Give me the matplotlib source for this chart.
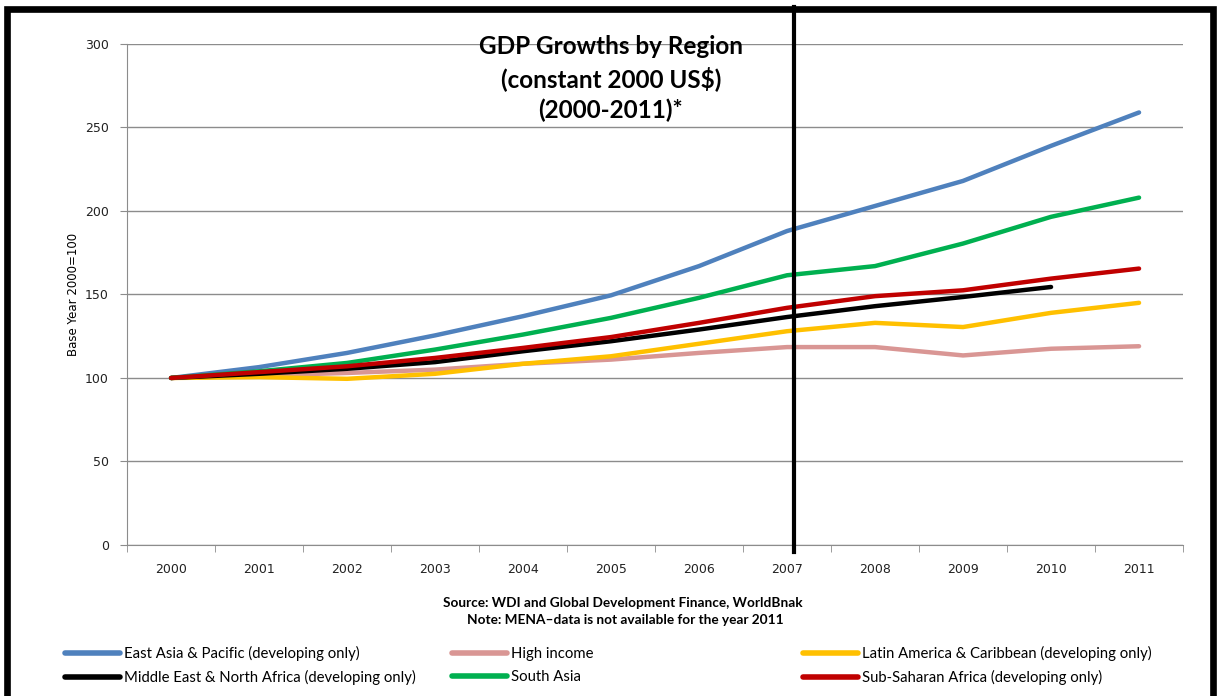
import numpy as np
import matplotlib.pyplot as plt
from matplotlib.patches import Rectangle

years = ['2000', '2001', '2002', '2003', '2004', '2005', '2006', '2007', '2008', '2009', '2010', '2011']

east_asia = [100, 106.5, 115, 125.5, 137, 149.5, 167, 188, 203, 218, 239, 259]
high_income = [100, 101.5, 103, 105, 108.5, 111, 115, 118.5, 118.5, 113.5, 117.5, 119]
latin_america = [100, 100.5, 99.5, 102.5, 108.5, 113, 120.5, 128, 133, 130.5, 139, 145]
mena = [100, 102.5, 105.5, 109.5, 116, 122, 129, 136.5, 143, 148.5, 154.5]
south_asia = [100, 104, 109, 117, 126, 136, 148, 161.5, 167, 180.5, 196.5, 208]
sub_saharan = [100, 103.5, 107, 112, 118, 124.5, 133, 142, 149, 152.5, 159.5, 165.5]

names = ['East Asia & Pacific (developing only)', 'High income',
         'Latin America & Caribbean (developing only)',
         'Middle East & North Africa (developing only)', 'South Asia',
         'Sub-Saharan Africa (developing only)']
colors = ['#4F81BD', '#D99694', '#FFC000', '#000000', '#00B050', '#C00000']
series = [east_asia, high_income, latin_america, mena, south_asia, sub_saharan]

marker_pos = 7.08  # vertical divider, just right of 2007

text_font = ['Lato', 'DejaVu Sans']

fig = plt.figure(figsize=(12.17, 6.96), dpi=100)
ax = fig.add_axes([0.1044, 0.2170, 0.8677, 0.7198])

lines = []
for vals, col, name in zip(series, colors, names):
    x = np.arange(len(vals))
    ln, = ax.plot(x, vals, color=col, lw=3.2, solid_capstyle='round', label=name, zorder=3)
    lines.append(ln)

ax.set_xlim(-0.5, len(years) - 0.5)
ax.set_ylim(0, 300)
ax.set_yticks(np.arange(0, 301, 50))
ax.yaxis.grid(True, color='#8c8c8c', lw=1)
ax.set_axisbelow(True)
ax.set_xticks(np.arange(len(years)))
ax.set_xticklabels(years)
ax.set_xticks(np.arange(-0.5, len(years), 1), minor=True)
ax.tick_params(axis='x', which='major', length=0, pad=13, labelsize=9, labelcolor='#222222')
ax.tick_params(axis='x', which='minor', length=5, color='#8c8c8c', direction='out')
ax.tick_params(axis='y', length=5, color='#8c8c8c', pad=8, labelsize=9, labelcolor='#222222')
for s in ['top', 'right']:
    ax.spines[s].set_visible(False)
for s in ['left', 'bottom']:
    ax.spines[s].set_color('#8c8c8c')
ax.set_ylabel('Base Year 2000=100', fontsize=8.5, labelpad=4)

ax.plot([marker_pos, marker_pos], [-4, 322], color='black', lw=3, clip_on=False, zorder=5)

ax.text(0.458, 1.018, 'GDP Growths by Region\n(constant 2000 US\\$)\n(2000-2011)*',
        transform=ax.transAxes, ha='center', va='top', fontsize=17.5,
        family=text_font, fontweight='bold', linespacing=1.38, zorder=6)

fig.text(0.512, 0.134, 'Source: WDI and Global Development Finance, WorldBnak',
         ha='center', va='center', fontsize=9.8, fontweight='bold', family=text_font)
fig.text(0.514, 0.109, 'Note: MENA\u2013data is not available for the year 2011',
         ha='center', va='center', fontsize=9.8, fontweight='bold', family=text_font)

col_x = [65 / 1217, 452 / 1217, 803 / 1217]
for i, cx in enumerate(col_x):
    leg = fig.legend([lines[i], lines[i + 3]], [names[i], names[i + 3]],
                     loc='center left', bbox_to_anchor=(cx, 1 - 665.5 / 696),
                     frameon=False, borderpad=0, borderaxespad=0,
                     handlelength=3.7, handletextpad=0.3, labelspacing=0.62,
                     prop={'family': text_font, 'size': 10.7})
    for h in leg.get_lines():
        h.set_linewidth(4)

fig.add_artist(Rectangle((7 / 1217, -0.1), 1205.5 / 1217, 0.1 + 1 - 9.5 / 696,
                         transform=fig.transFigure, fill=False, lw=4.8,
                         edgecolor='black', clip_on=False))

fig.savefig('out.png', dpi=100)
